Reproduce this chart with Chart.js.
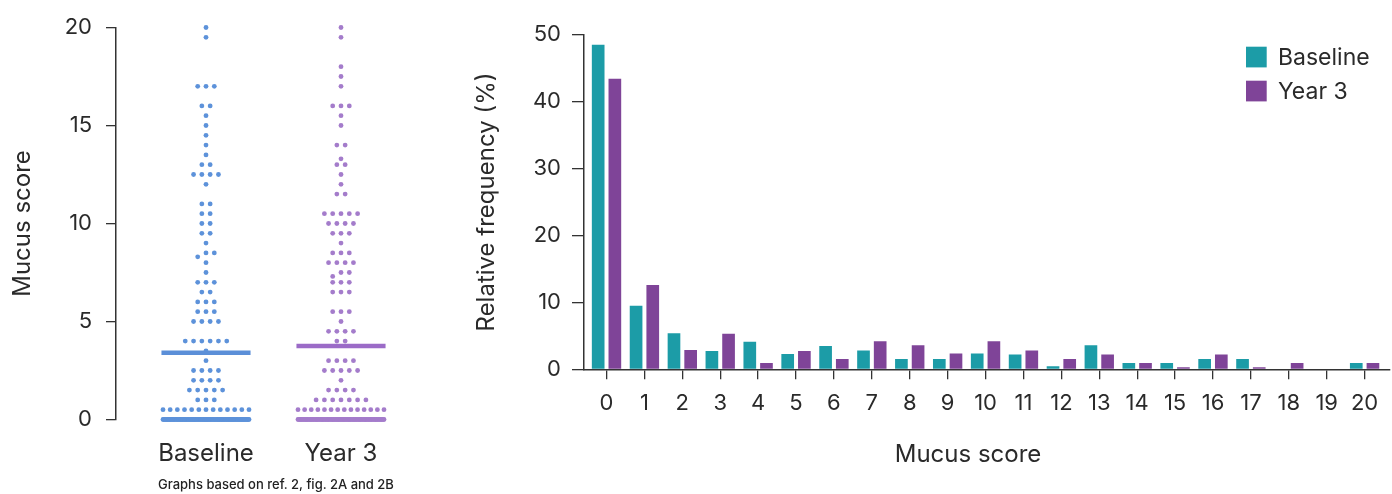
<!DOCTYPE html>
<html><head><meta charset="utf-8">
<script src="https://cdn.jsdelivr.net/npm/chart.js@4.4.1/dist/chart.umd.min.js"></script>
<style>
html,body{margin:0;padding:0;background:#fff;}
body{width:1392px;height:494px;position:relative;overflow:hidden;font-family:Inter,sans-serif;}
#wl{position:absolute;left:0;top:0;width:440px;height:494px;}
#wr{position:absolute;left:460px;top:0;width:932px;height:494px;}
#note{position:absolute;left:158px;top:476px;font-size:13px;font-weight:500;color:#222;white-space:nowrap;font-family:Inter,sans-serif;}
</style></head><body>
<div id="wl"><canvas id="c1" width="440" height="494"></canvas></div>
<div id="wr"><canvas id="c2" width="932" height="494"></canvas></div>
<div id="note">Graphs based on ref. 2, fig. 2A and 2B</div>
<script>
// ---- Left panel: individual mucus scores (dot plot) ----
const groups = ['Baseline', 'Year 3'];
const baselineScores = [0,0.5,1,1.5,2,2.5,3,3.5,4,5,5.5,6,6.5,7,7.5,8,8.3,8.5,9,9.5,10,10.5,11,12,12.5,13,13.5,14,14.5,15,15.5,16,17,19.5,20];
const baselineCounts = [80,13,3,5,4,4,1,1,6,4,3,3,2,3,1,1,1,2,1,2,2,2,2,1,4,2,1,1,1,1,1,2,3,1,1];
const year3Scores = [0,0.5,1,1.5,2,2.5,3,4,4.5,5,5.5,6.5,7,7.3,7.5,8,8.5,9,9.5,10,10.5,11.5,12,12.5,13,13.3,14,15,15.5,16,17,17.5,18,19.5,20];
const year3Counts = [71,14,7,4,1,5,4,2,4,1,3,3,3,1,2,4,3,1,3,4,5,2,1,1,2,1,2,1,1,3,1,1,1,1,1];
const baselineMean = 3.4;
const year3Mean = 3.75;
const scoreTicks = [0,5,10,15,20];

// ---- Right panel: relative frequency by mucus score ----
const categories = ['0','1','2','3','4','5','6','7','8','9','10','11','12','13','14','15','16','17','18','19','20'];
const baselineFreq = [48.5,9.5,5.4,2.75,4.1,2.3,3.5,2.8,1.55,1.55,2.35,2.2,0.45,3.6,0.95,0.95,1.55,1.55,0,0,0.95];
const year3Freq = [43.4,12.6,2.9,5.3,0.95,2.75,1.55,4.2,3.6,2.35,4.2,2.8,1.55,2.2,0.95,0.3,2.2,0.3,0.95,0,0.95];
const freqTicks = [0,10,20,30,40,50];
const xTitle = 'Mucus score';

const TXT = '#2a2a2a';
const FONT = 'Inter';
const teal = '#1c9ca7', purple = '#7f4498';
const dotBlue = '#5d92da', dotPurple = '#a47ccb';
const lineBlue = '#5b8fd8', linePurple = '#9b6bc7';

// beeswarm-style layout: values sharing a row are spread horizontally around the group centre
const DOT_STEP = 0.0615, MAX_SPAN = 0.637;
function swarm(scores, counts, center) {
  const rows = new Map();
  scores.forEach((s, i) => {
    const key = Math.round(s * 2) / 2;
    if (!rows.has(key)) rows.set(key, []);
    for (let k = 0; k < counts[i]; k++) rows.get(key).push(s);
  });
  const pts = [];
  rows.forEach(arr => {
    arr.sort((a, b) => a - b);
    const n = arr.length;
    const step = n > 1 ? Math.min(DOT_STEP, MAX_SPAN / (n - 1)) : 0;
    arr.forEach((v, i) => pts.push({x: center + (i - (n - 1) / 2) * step, y: v}));
  });
  return pts;
}
const HALF = 0.33;

new Chart(document.getElementById('c1'), {
  data: {
    datasets: [
      {type:'line', data:[{x:-HALF,y:baselineMean},{x:HALF,y:baselineMean}], borderColor:lineBlue, borderWidth:4.5, pointRadius:0, order:0, clip:false, borderCapStyle:'butt'},
      {type:'line', data:[{x:1-HALF,y:year3Mean},{x:1+HALF,y:year3Mean}], borderColor:linePurple, borderWidth:4.5, pointRadius:0, order:0, clip:false, borderCapStyle:'butt'},
      {type:'scatter', label:groups[0], data:swarm(baselineScores, baselineCounts, 0), pointRadius:2.4, pointBackgroundColor:dotBlue, pointBorderWidth:0, order:1, clip:false},
      {type:'scatter', label:groups[1], data:swarm(year3Scores, year3Counts, 1), pointRadius:2.4, pointBackgroundColor:dotPurple, pointBorderWidth:0, order:1, clip:false}
    ]
  },
  options: {
    responsive:false, animation:false, events:[],
    layout:{padding:{top:27.5,right:4,bottom:0,left:0}},
    plugins:{legend:{display:false}, tooltip:{enabled:false}},
    scales:{
      x:{type:'linear', min:-0.6667, max:1.7037, offset:false,
        afterBuildTicks: s => { s.ticks = groups.map((g,i)=>({value:i})); },
        ticks:{callback:v=>groups[v], font:{family:FONT,size:24}, color:TXT, padding:20, autoSkip:false, maxRotation:0},
        grid:{display:false, drawTicks:false}, border:{display:false},
        afterFit: s => { s.height = 74.5; }
      },
      y:{type:'linear', min:0, max:20,
        afterBuildTicks: s => { s.ticks = scoreTicks.map(v=>({value:v})); },
        ticks:{font:{family:FONT,size:22}, color:TXT, padding:14},
        grid:{drawOnChartArea:false, drawTicks:true, tickLength:10, color:'#333', lineWidth:1.3},
        border:{display:true, color:'#333', width:1.5},
        title:{display:true, text:'Mucus score', font:{family:FONT,size:24}, color:TXT, padding:{top:8,bottom:4}},
        afterFit: s => { s.width = 116; }
      }
    }
  }
});

// legend in the top-right corner of the plot and the x-axis title (slightly left of centre, as in the source)
const cornerLegend = {
  id:'cornerLegend',
  afterDraw(chart){
    const {ctx, chartArea} = chart;
    ctx.save();
    chart.data.datasets.forEach((ds, i) => {
      const x = chartArea.right - 144, y = 46.7 + i * 34;
      ctx.fillStyle = ds.backgroundColor;
      ctx.fillRect(x, y, 20.7, 20.7);
      ctx.fillStyle = TXT;
      ctx.font = '23px ' + FONT;
      ctx.textBaseline = 'middle';
      ctx.textAlign = 'left';
      ctx.fillText(ds.label, x + 32, y + 11);
    });
    ctx.font = '24px ' + FONT;
    ctx.fillStyle = TXT;
    ctx.textAlign = 'center';
    ctx.textBaseline = 'middle';
    ctx.fillText(xTitle, chartArea.left + 384, 455);
    ctx.restore();
  }
};

new Chart(document.getElementById('c2'), {
  type:'bar',
  data:{
    datasets:[
      {label:groups[0], data:baselineFreq.map((v,i)=>({x:i,y:v})), backgroundColor:teal, categoryPercentage:0.88, barPercentage:0.76},
      {label:groups[1], data:year3Freq.map((v,i)=>({x:i,y:v})), backgroundColor:purple, categoryPercentage:0.88, barPercentage:0.76}
    ]
  },
  options:{
    responsive:false, animation:false, events:[],
    layout:{padding:{top:34.7,right:2,bottom:0,left:0}},
    plugins:{legend:{display:false}, tooltip:{enabled:false}},
    scales:{
      x:{type:'linear', min:-0.594, max:20.67, offset:false,
        afterBuildTicks: s => { s.ticks = categories.map((c,i)=>({value:i})); },
        ticks:{callback:v=>categories[v], font:{family:FONT,size:22}, color:TXT, padding:11, autoSkip:false, maxRotation:0},
        grid:{display:true, offset:false, drawOnChartArea:false, drawTicks:true, tickLength:10, color:'#333', lineWidth:1.3},
        border:{display:true, color:'#333', width:1.5},
        title:{display:false},
        afterFit: s => { s.height = 124.7; }
      },
      y:{type:'linear', min:0, max:50,
        afterBuildTicks: s => { s.ticks = freqTicks.map(v=>({value:v})); },
        ticks:{font:{family:FONT,size:22}, color:TXT, padding:11},
        grid:{drawOnChartArea:false, drawTicks:true, tickLength:12, color:'#333', lineWidth:1.3},
        border:{display:true, color:'#333', width:1.5},
        title:{display:true, text:'Relative frequency (%)', font:{family:FONT,size:24}, color:TXT, padding:{top:12.5,bottom:4}},
        afterFit: s => { s.width = 124; }
      }
    }
  },
  plugins:[cornerLegend]
});
</script>
</body></html>
